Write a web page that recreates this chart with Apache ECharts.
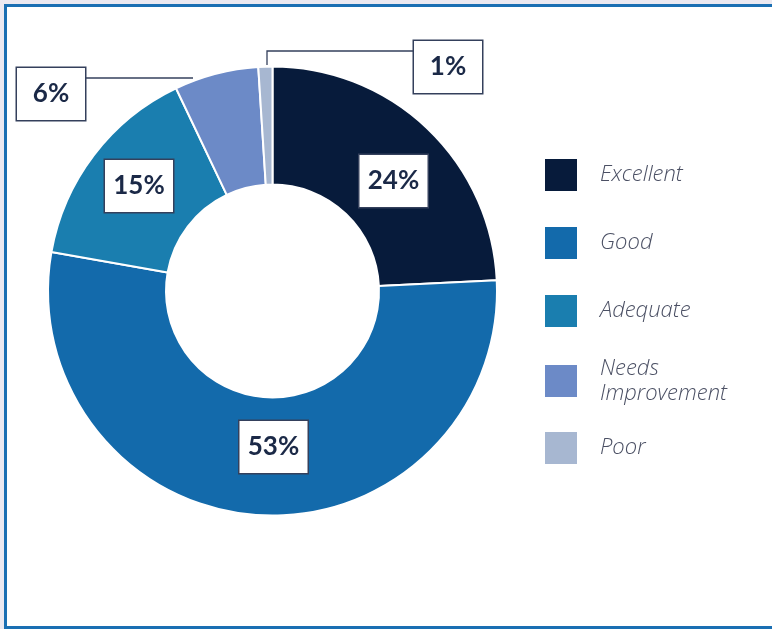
<!DOCTYPE html>
<html><head><meta charset="utf-8">
<script src="https://cdn.jsdelivr.net/npm/echarts@6/dist/echarts.min.js"></script>
<style>html,body{margin:0;padding:0;background:#ebe9f1}#c{width:772px;height:629px}</style>
</head><body><div id="c"></div>
<script>
const categories = ['Excellent', 'Good', 'Adequate', 'Needs Improvement', 'Poor'];
const values = [24, 53, 15, 6, 1];
const colors = ['#071b3b', '#136aab', '#1a7eaf', '#6c8ac7', '#a7b7d1'];

// label box centres and leader lines (layout only)
const labelBoxCenters = [[393.5, 181], [273.5, 447], [139, 186], [51, 94], [448, 67]];
const leaderLines = { 3: [[193, 78], [140, 78], [85, 78]], 4: [[267, 65], [267, 51], [414, 51]] };

const chart = echarts.init(document.getElementById('c'), null, { renderer: 'canvas' });

const legendText = {
  fontFamily: 'Open Sans', fontStyle: 'italic', fontWeight: 300, fontSize: 22,
  color: '#4b5064', lineHeight: 25, padding: [0, 0, 0, 18]
};
const legendBase = {
  orient: 'vertical', left: 545, padding: 0, itemWidth: 32, itemHeight: 32,
  icon: 'rect', selectedMode: false, textStyle: legendText,
  itemStyle: { borderWidth: 0 },
  formatter: n => n === 'Needs Improvement' ? 'Needs\nImprovement' : n
};

chart.setOption({
  backgroundColor: '#ebe9f1',
  animation: false,
  color: colors,
  graphic: [{
    type: 'rect', z: -10, silent: true,
    shape: { x: 5.5, y: 5.5, width: 800, height: 622 },
    style: { fill: '#ffffff', stroke: '#1a6fb3', lineWidth: 3 }
  }],
  legend: [
    Object.assign({}, legendBase, { top: 159, itemGap: 36, data: categories.slice(0, 3) }),
    Object.assign({}, legendBase, { top: 356, itemGap: 26, data: categories.slice(3) })
  ],
  series: [{
    type: 'pie',
    center: [272.5, 291],
    radius: [106.5, 224.5],
    startAngle: 90,
    clockwise: true,
    avoidLabelOverlap: false,
    emphasis: { disabled: true },
    itemStyle: { borderColor: '#ffffff', borderWidth: 2 },
    label: {
      show: true, position: 'inside',
      formatter: p => p.value + '%',
      fontFamily: 'Lato', fontWeight: 'bold', fontSize: 26, lineHeight: 30,
      width: 54, align: 'center',
      color: '#1b2947', backgroundColor: '#ffffff',
      borderColor: '#34405c', borderWidth: 1.5, padding: [11, 7]
    },
    labelLine: { show: true, length: 10, length2: 10, lineStyle: { color: '#34405c', width: 1.3 } },
    labelLayout: function (p) {
      const i = p.dataIndex;
      const o = { x: labelBoxCenters[i][0], y: labelBoxCenters[i][1], align: 'center', verticalAlign: 'middle' };
      if (leaderLines[i]) o.labelLinePoints = leaderLines[i];
      return o;
    },
    data: categories.map((n, i) => ({
      name: n, value: values[i],
      label: i >= 3 ? { position: 'outside' } : undefined
    }))
  }]
});
</script></body></html>
